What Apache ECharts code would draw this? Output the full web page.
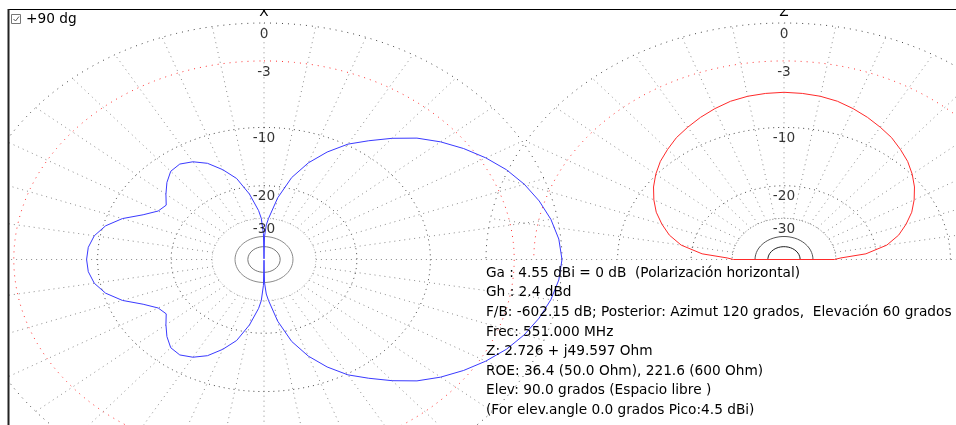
<!DOCTYPE html>
<html>
<head>
<meta charset="utf-8">
<script src="https://cdn.jsdelivr.net/npm/echarts@6/dist/echarts.min.js"></script>
<style>
  html, body { margin: 0; padding: 0; background: #fff; }
  #chart { width: 956px; height: 425px; }
</style>
</head>
<body>
<div id="chart"></div>
<script>
// Horizontal-plane (azimuth) pattern: degrees clockwise from X, gain in dB below the 4.55 dBi peak
const azAngle = [0, 1, 3, 5, 10, 15, 20, 25, 30, 35, 40, 45, 50, 55, 60, 65, 70, 75, 80, 85,
  90, 95, 100, 105, 110, 115, 120, 125, 130, 135, 140, 145, 150, 155, 160, 165, 170, 175, 177, 179,
  180, 181, 183, 185, 190, 195, 200, 205, 210, 215, 220, 225, 230, 235, 240, 245, 250, 255, 260, 265,
  270, 275, 280, 285, 290, 295, 300, 305, 310, 315, 320, 325, 330, 335, 340, 345, 350, 355, 357, 359, 360];
const azGain = [-100, -40, -33, -30, -22.8, -17.6, -14.3, -11.85, -9.85, -8.4, -6.9, -5.5, -4.4, -3.45, -2.6, -1.85, -1.25, -0.77, -0.39, -0.12,
  0, -0.12, -0.39, -0.77, -1.25, -1.85, -2.6, -3.45, -4.4, -5.5, -6.9, -8.4, -9.85, -11.85, -14.3, -17.6, -22.8, -30, -33, -40,
  -100, -38, -30, -27, -21.8, -17.8, -15.55, -13.75, -12.7, -12.15, -12.35, -13.3, -14.5, -15.7, -15.3, -13.8, -11.7, -10.25, -9.4, -9.0,
  -8.9, -9.0, -9.4, -10.25, -11.7, -13.8, -15.3, -15.7, -14.5, -13.3, -12.35, -12.15, -12.7, -13.75, -15.55, -17.8, -21.8, -27, -30, -38, -100];

// Vertical-plane (elevation) pattern: degrees above the horizon, 0 = right, 90 = Z, 180 = left
const elAngle = [0, 2, 5, 10, 15, 20, 25, 30, 35, 40, 45, 50, 55, 60, 65, 70, 75, 80, 85,
  90, 95, 100, 105, 110, 115, 120, 125, 130, 135, 140, 145, 150, 155, 160, 165, 170, 175, 178, 180];
const elGain = [-30.5, -28.4, -22.1, -18.0, -15.8, -14.25, -12.85, -11.75, -10.75, -9.9, -9.15, -8.55, -7.95, -7.5, -7.05, -6.65, -6.3, -6.1, -6.0,
  -5.95, -6.0, -6.1, -6.3, -6.65, -7.05, -7.5, -7.95, -8.55, -9.15, -9.9, -10.75, -11.75, -12.85, -14.25, -15.8, -18.0, -22.1, -28.4, -30.5];

// dB circles of the grid and the ones that carry a label
const ringLevels = [0, -3, -10, -20, -30, -40, -50];
const ringLabels = ['0', '-3', '-10', '-20', '-30'];
const spokeStep = 10;

const infoLines = [
  'Ga : 4.55 dBi = 0 dB  (Polarización horizontal)',
  'Gh : 2.4 dBd',
  'F/B: -602.15 dB; Posterior: Azimut 120 grados,  Elevación 60 grados',
  'Frec: 551.000 MHz',
  'Z: 2.726 + j49.597 Ohm',
  'ROE: 36.4 (50.0 Ohm), 221.6 (600 Ohm)',
  'Elev: 90.0 grados (Espacio libre )',
  '(For elev.angle 0.0 grados Pico:4.5 dBi)'
];

// ---- layout (pixels) ----
const W = 956, H = 425;
const FRAME = { left: 8, top: 9 };
const AZ_CENTER = [264, 259.5];
const EL_CENTER = [784, 259.5];
const UNIT_X = 298;     // pixels per unit radius, horizontally
const UNIT_Y = 236.5;   // pixels per unit radius, vertically
const FONT_FAMILY = '"DejaVu Sans", "Liberation Sans", sans-serif';
const FONT_SIZE = 13.7;
const FONT = FONT_SIZE + 'px ' + FONT_FAMILY;

// ARRL log-periodic radius: 0.89 per 2 dB
const rho = db => Math.pow(0.89, -db / 2);
const rad = d => d * Math.PI / 180;
// azimuth: clockwise from the top; elevation: counter-clockwise from the right horizon
const azPt = (a, db) => [rho(db) * Math.sin(rad(a)), rho(db) * Math.cos(rad(a))];
const elPt = (e, db) => [rho(db) * Math.cos(rad(e)), rho(db) * Math.sin(rad(e))];

function axisRange(c) {
  return {
    x: [(FRAME.left - c[0]) / UNIT_X, (W - c[0]) / UNIT_X],
    y: [(c[1] - H) / UNIT_Y, (c[1] - FRAME.top) / UNIT_Y]
  };
}
const azR = axisRange(AZ_CENTER), elR = axisRange(EL_CENTER);

const ringStyleAz = {
  '0': { color: '#444', type: [1, 5] },
  '-3': { color: '#ff3030', type: [1, 5] },
  '-10': { color: '#444', type: [1, 4] },
  '-20': { color: '#444', type: [1, 4] },
  '-30': { color: '#b0b0b0', type: [1, 2] },
  '-40': { color: '#8c8c8c', type: 'solid' },
  '-50': { color: '#7a7a7a', type: 'solid' }
};
const ringStyleEl = Object.assign({}, ringStyleAz, {
  '-30': { color: '#777', type: [1, 2] },
  '-40': { color: '#555', type: 'solid' },
  '-50': { color: '#222', type: 'solid' }
});

function ringSeries(idx, ptFn, span, styles) {
  const out = [];
  ringLevels.forEach(lv => {
    const data = [];
    for (let a = 0; a <= span; a += 1) data.push(ptFn(a, lv));
    const st = styles[String(lv)];
    out.push({
      type: 'line', xAxisIndex: idx, yAxisIndex: idx, data, showSymbol: false, silent: true,
      lineStyle: { width: 1, color: st.color, type: st.type },
      z: 1, animation: false
    });
  });
  return out;
}

function spokeSeries(idx, ptFn, span) {
  const data = [];
  for (let a = 0; a <= span; a += spokeStep) {
    if (span === 360 && a === 360) break;
    data.push(ptFn(a, -30), ptFn(a, 0), ['-', '-']);
  }
  return {
    type: 'line', xAxisIndex: idx, yAxisIndex: idx, data, showSymbol: false, silent: true,
    connectNulls: false,
    lineStyle: { width: 1, color: '#8a8a8a', type: [1, 4] }, z: 1, animation: false
  };
}

function labelSeries(idx) {
  return {
    type: 'scatter', xAxisIndex: idx, yAxisIndex: idx, symbolSize: 0.1, silent: true,
    itemStyle: { color: 'transparent' },
    data: ringLabels.map(t => ({ value: [0, rho(Number(t))], name: t })),
    label: {
      show: true, position: 'bottom', distance: 4, formatter: p => p.name,
      color: '#000', fontSize: FONT_SIZE, fontFamily: FONT_FAMILY
    },
    z: 5, animation: false
  };
}

const azData = azAngle.map((a, i) => azPt(a, azGain[i]));
const elData = elAngle.map((e, i) => elPt(e, elGain[i]));
elData.push(elData[0]); // close the outline along the horizon

const axisCommon = { type: 'value', show: false, splitLine: { show: false } };

const option = {
  animation: false,
  backgroundColor: '#fff',
  grid: [
    { left: FRAME.left, top: FRAME.top, right: 0, bottom: 0 },
    { left: FRAME.left, top: FRAME.top, right: 0, bottom: 0 }
  ],
  xAxis: [
    Object.assign({ gridIndex: 0, min: azR.x[0], max: azR.x[1] }, axisCommon),
    Object.assign({ gridIndex: 1, min: elR.x[0], max: elR.x[1] }, axisCommon)
  ],
  yAxis: [
    Object.assign({ gridIndex: 0, min: azR.y[0], max: azR.y[1] }, axisCommon),
    Object.assign({ gridIndex: 1, min: elR.y[0], max: elR.y[1] }, axisCommon)
  ],
  series: [
    ...ringSeries(0, azPt, 360, ringStyleAz),
    spokeSeries(0, azPt, 360),
    ...ringSeries(1, elPt, 180, ringStyleEl),
    spokeSeries(1, elPt, 180),
    labelSeries(0),
    labelSeries(1),
    {
      type: 'line', xAxisIndex: 0, yAxisIndex: 0, data: azData, showSymbol: false, silent: true,
      lineStyle: { width: 1, color: '#3a3aff' }, z: 3, animation: false
    },
    {
      type: 'line', xAxisIndex: 1, yAxisIndex: 1, data: elData, showSymbol: false, silent: true,
      lineStyle: { width: 1, color: '#ff2a2a' }, z: 3, animation: false
    }
  ],
  graphic: [
    { type: 'text', z: 40, style: { text: 'X', x: AZ_CENTER[0], y: 5, align: 'center', verticalAlign: 'top', font: FONT, fill: '#000' } },
    { type: 'text', z: 40, style: { text: 'Z', x: EL_CENTER[0], y: 5, align: 'center', verticalAlign: 'top', font: FONT, fill: '#000' } },
    { type: 'rect', z: 50, silent: true, shape: { x: 0, y: 0, width: W, height: FRAME.top }, style: { fill: '#fff' } },
    { type: 'rect', z: 50, silent: true, shape: { x: 0, y: 0, width: FRAME.left, height: H }, style: { fill: '#fff' } },
    { type: 'line', z: 60, silent: true, shape: { x1: FRAME.left, y1: FRAME.top + 0.5, x2: W, y2: FRAME.top + 0.5 }, style: { stroke: '#000', lineWidth: 1 } },
    { type: 'line', z: 60, silent: true, shape: { x1: FRAME.left + 0.5, y1: FRAME.top, x2: FRAME.left + 0.5, y2: H }, style: { stroke: '#222', lineWidth: 2 } },
    // "+90 dg" check box
    { type: 'rect', z: 60, silent: true, shape: { x: 11.5, y: 14.5, width: 9, height: 9 }, style: { fill: '#fff', stroke: '#777', lineWidth: 1 } },
    { type: 'polyline', z: 61, silent: true, shape: { points: [[13.5, 19], [15.5, 21], [19, 16.5]] }, style: { stroke: '#555', lineWidth: 1, fill: null } },
    { type: 'text', z: 60, style: { text: '+90 dg', x: 26, y: 19.5, verticalAlign: 'middle', font: FONT, fill: '#000' } },
    {
      type: 'text', z: 60, silent: true,
      style: {
        text: infoLines.join('\n'), x: 486, y: 263.5, verticalAlign: 'top',
        font: FONT, lineHeight: 19.6, fill: '#000'
      }
    }
  ]
};

const chart = echarts.init(document.getElementById('chart'), null, { renderer: 'canvas' });
chart.setOption(option);
</script>
</body>
</html>
